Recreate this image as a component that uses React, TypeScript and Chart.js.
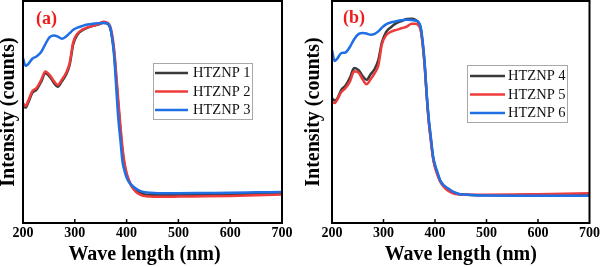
import React, { useEffect, useRef } from 'react';
import { Chart, registerables } from 'chart.js';

Chart.register(...registerables);

// ---------- data ----------
const wavelengthsA = [200, 205, 210, 218, 226, 235, 243, 252, 260, 267, 275, 283, 290, 297, 305, 315, 325, 335, 345, 355, 362, 368, 372, 376, 380, 384, 388, 392, 396, 400, 405, 410, 418, 426, 435, 445, 460, 480, 500, 550, 600, 650, 700];
const htznp1 = [53.2, 52.0, 54.2, 58.6, 60.0, 63.6, 67.4, 65.8, 63.0, 61.4, 63.8, 66.8, 71.2, 80.5, 84.8, 86.8, 88.0, 88.8, 89.4, 90.2, 89.9, 88.0, 83.5, 76.5, 65.0, 53.0, 42.0, 32.5, 26.0, 21.8, 18.6, 16.5, 14.5, 13.5, 12.9, 12.7, 12.6, 12.6, 12.6, 12.7, 12.9, 13.1, 13.3];
const htznp2 = [54.0, 52.8, 55.0, 59.4, 60.8, 64.4, 68.2, 66.5, 63.8, 62.2, 64.6, 67.6, 72.0, 81.5, 85.3, 87.2, 88.2, 88.8, 89.5, 90.7, 90.3, 88.8, 85.0, 78.0, 67.0, 55.0, 44.0, 34.0, 27.0, 22.5, 19.0, 16.5, 14.0, 12.8, 12.1, 11.9, 11.8, 11.8, 11.9, 12.0, 12.2, 12.5, 12.8];
const htznp3 = [74.3, 70.8, 71.6, 74.0, 75.0, 77.0, 80.5, 83.8, 84.5, 84.0, 83.0, 84.0, 85.5, 87.0, 88.0, 88.8, 89.4, 89.8, 90.0, 90.1, 90.0, 88.3, 83.5, 75.0, 61.0, 47.0, 37.5, 27.8, 23.5, 20.5, 18.3, 17.0, 15.5, 14.5, 13.9, 13.6, 13.4, 13.4, 13.4, 13.5, 13.6, 13.8, 14.0];

const wavelengthsB = [200, 205, 210, 218, 226, 235, 243, 252, 260, 267, 275, 283, 290, 297, 305, 315, 325, 335, 345, 355, 362, 368, 372, 376, 380, 384, 388, 392, 396, 400, 405, 410, 418, 426, 435, 445, 460, 480, 500, 550, 600, 650, 700];
const htznp4 = [56.2, 55.2, 56.0, 60.0, 61.8, 65.5, 69.8, 68.8, 66.0, 64.5, 67.0, 69.5, 73.5, 81.5, 86.0, 88.3, 90.0, 91.0, 91.9, 92.0, 91.5, 90.3, 88.0, 81.0, 71.0, 57.0, 45.5, 37.5, 29.8, 25.5, 22.0, 19.0, 16.5, 15.0, 13.8, 13.1, 12.7, 12.5, 12.5, 12.5, 12.6, 12.7, 12.9];
const htznp5 = [54.6, 54.0, 55.5, 59.0, 60.7, 63.8, 68.3, 67.6, 64.5, 62.5, 64.8, 67.5, 71.0, 80.5, 84.5, 86.2, 87.0, 87.7, 88.5, 89.8, 89.8, 89.0, 87.0, 80.5, 70.5, 57.0, 45.5, 37.0, 29.5, 25.0, 21.5, 18.6, 16.0, 14.4, 13.4, 12.9, 12.7, 12.7, 12.7, 12.8, 13.0, 13.2, 13.4];
const htznp6 = [77.9, 73.0, 74.0, 76.5, 76.8, 79.4, 82.8, 85.2, 85.6, 85.4, 84.8, 85.2, 86.3, 88.0, 89.5, 90.4, 90.9, 91.3, 91.5, 91.4, 91.2, 90.5, 88.5, 82.0, 72.0, 57.8, 46.8, 38.6, 30.4, 26.3, 22.7, 19.2, 16.8, 15.5, 14.1, 13.2, 12.8, 12.5, 12.4, 12.3, 12.3, 12.3, 12.3];

const seriesNamesA = ['HTZNP 1', 'HTZNP 2', 'HTZNP 3'];
const seriesNamesB = ['HTZNP 4', 'HTZNP 5', 'HTZNP 6'];
const panelTags = ['(a)', '(b)'];
const xTitle = 'Wave length (nm)';
const yTitle = 'Intensity (counts)';
const xMin = 200;
const xMax = 700;
const xStep = 100;

// ---------- styles ----------
const SERIF = '"Liberation Serif", "Times New Roman", serif';
const COLORS = ['#3a3a3a', '#ef3b3b', '#1f6fe5'];

const framePlugin = {
  id: 'frame',
  afterDatasetsDraw(chart: any, _args: any, opts: any) {
    const { ctx, chartArea } = chart;
    const { left, right, top, bottom } = chartArea;
    const xs = chart.scales.x;
    ctx.save();
    // frame
    ctx.strokeStyle = '#000';
    ctx.lineWidth = 2;
    ctx.strokeRect(left, top, right - left, bottom - top);
    // inward ticks
    ctx.lineWidth = 1.5;
    xs.ticks.forEach((t: any) => {
      const px = xs.getPixelForValue(t.value);
      if (px > left + 2 && px < right - 2) {
        ctx.beginPath();
        ctx.moveTo(px, bottom);
        ctx.lineTo(px, bottom - 4);
        ctx.stroke();
      }
    });
    // x axis title
    ctx.fillStyle = '#000';
    ctx.font = `bold 20px ${SERIF}`;
    ctx.textBaseline = 'middle';
    ctx.textAlign = 'center';
    ctx.fillText(opts.xTitle, (left + right) / 2 + opts.xTitleShift, chart.height - 12);
    // panel tag
    ctx.fillStyle = '#f01c1c';
    ctx.font = `bold 18px ${SERIF}`;
    ctx.textAlign = 'left';
    ctx.fillText(opts.tag, opts.tagX, opts.tagY);
    // legend
    const lg = opts.legend;
    ctx.fillStyle = '#fff';
    ctx.fillRect(lg.x, lg.y, lg.w, lg.h);
    ctx.strokeStyle = '#a8a8a8';
    ctx.lineWidth = 1;
    ctx.strokeRect(lg.x + 0.5, lg.y + 0.5, lg.w, lg.h);
    chart.data.datasets.forEach((ds: any, i: number) => {
      const y = lg.y + lg.firstRow + i * lg.rowGap;
      ctx.strokeStyle = ds.borderColor;
      ctx.lineWidth = 2.5;
      ctx.beginPath();
      ctx.moveTo(lg.x + lg.lineStart, y);
      ctx.lineTo(lg.x + lg.lineEnd, y);
      ctx.stroke();
      ctx.fillStyle = '#111';
      ctx.font = `14.5px ${SERIF}`;
      ctx.textBaseline = 'middle';
      ctx.fillText(ds.label, lg.x + lg.textX, y + 0.5);
    });
    ctx.restore();
  },
};

type PanelProps = {
  xs: number[];
  series: number[][];
  names: string[];
  tag: string;
  left: number;
  yAxisWidth: number;
  rightPad: number;
  yTitleLH: number;
  xTitleShift: number;
  tagX: number;
  tagY: number;
  legend: any;
};

function Panel(p: PanelProps) {
  const ref = useRef<HTMLCanvasElement | null>(null);
  useEffect(() => {
    if (!ref.current) return;
    const datasets = p.series.map((vals, i) => ({
      label: p.names[i],
      data: vals.map((v, j) => ({ x: p.xs[j], y: v })),
      borderColor: COLORS[i],
      backgroundColor: COLORS[i],
      borderWidth: 2.5,
      pointRadius: 0,
      cubicInterpolationMode: 'monotone' as const,
      order: 3 - i,
    }));
    const chart = new Chart(ref.current, {
      type: 'line',
      data: { datasets },
      plugins: [framePlugin as any],
      options: {
        animation: false,
        responsive: false,
        maintainAspectRatio: false,
        layout: { padding: { top: 1, right: p.rightPad, bottom: 0, left: 0 } },
        scales: {
          x: {
            type: 'linear',
            min: xMin,
            max: xMax,
            grid: { display: false, drawTicks: false },
            border: { display: false },
            ticks: {
              stepSize: xStep,
              maxRotation: 0,
              autoSkip: false,
              padding: 2,
              color: '#000',
              font: { family: SERIF, size: 14, weight: 'bold' },
              callback: (v: any) => String(v),
            },
            title: { display: false, text: xTitle },
            afterFit: (s: any) => {
              s.height = 44;
            },
          },
          y: {
            type: 'linear',
            min: 0,
            max: 100,
            grid: { display: false, drawTicks: false },
            border: { display: false },
            ticks: { display: false },
            title: {
              display: true,
              text: yTitle,
              color: '#000',
              padding: { top: 0, bottom: 0 },
              font: { family: SERIF, size: 20, weight: 'bold', lineHeight: p.yTitleLH },
            },
            afterFit: (s: any) => {
              s.width = p.yAxisWidth;
            },
          },
        },
        plugins: {
          legend: { display: false },
          tooltip: { enabled: false },
          frame: {
            tag: p.tag,
            tagX: p.tagX,
            tagY: p.tagY,
            legend: p.legend,
            xTitle,
            xTitleShift: p.xTitleShift,
          },
        } as any,
      },
    });
    return () => chart.destroy();
  }, []);
  return (
    <canvas
      ref={ref}
      width={301}
      height={267}
      style={{ position: 'absolute', left: p.left, top: 0, width: 301, height: 267 }}
    />
  );
}

export default function App() {
  useEffect(() => {
    document.body.style.margin = '0';
  }, []);
  return (
    <div style={{ position: 'relative', width: 602, height: 267, background: '#fff' }}>
      <style>{'body{margin:0;background:#fff}'}</style>
      <Panel
        xs={wavelengthsA}
        series={[htznp1, htznp2, htznp3]}
        names={seriesNamesA}
        tag={panelTags[0]}
        left={0}
        yAxisWidth={23}
        rightPad={19}
        yTitleLH={0.92}
        xTitleShift={-8}
        tagX={36}
        tagY={19}
        legend={{ x: 153, y: 63, w: 99, h: 56, firstRow: 10, rowGap: 18.5, lineStart: 2, lineEnd: 35, textX: 40 }}
      />
      <Panel
        xs={wavelengthsB}
        series={[htznp4, htznp5, htznp6]}
        names={seriesNamesB}
        tag={panelTags[1]}
        left={301}
        yAxisWidth={31}
        rightPad={10}
        yTitleLH={1.3}
        xTitleShift={0}
        tagX={42}
        tagY={18}
        legend={{ x: 166, y: 65, w: 100, h: 57, firstRow: 11, rowGap: 18.5, lineStart: 3, lineEnd: 38, textX: 41 }}
      />
    </div>
  );
}
